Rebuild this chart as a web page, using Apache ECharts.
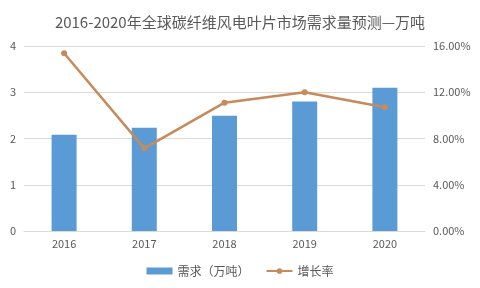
<!DOCTYPE html>
<html><head><meta charset="utf-8">
<script src="https://cdn.jsdelivr.net/npm/echarts@6/dist/echarts.min.js"></script>
<style>html,body{margin:0;padding:0;background:#fff}#c{width:480px;height:288px}</style>
</head><body><div id="c"></div>
<script>
const titleText = '2016-2020年全球碳纤维风电叶片市场需求量预测—万吨';
const categories = ['2016', '2017', '2018', '2019', '2020'];
const demand = [2.08, 2.23, 2.49, 2.80, 3.10];
const growth = [0.1537, 0.0715, 0.1110, 0.1200, 0.1070];
const seriesNames = ['需求（万吨）', '增长率'];

const chart = echarts.init(document.getElementById('c'));
const font = '"Noto Sans CJK SC", "Noto Sans", sans-serif';
chart.setOption({
  animation: false,
  backgroundColor: '#fff',
  title: {
    text: titleText, left: 'center', top: 10,
    textStyle: { fontSize: 15, fontWeight: 'normal', color: '#595959', fontFamily: font }
  },
  legend: {
    bottom: 6, left: 'center', itemGap: 16, itemWidth: 26, itemHeight: 7,
    textStyle: { fontSize: 12, color: '#595959', fontFamily: font },
    data: [{ name: seriesNames[0], icon: 'rect' }, { name: seriesNames[1] }]
  },
  grid: { left: 24, right: 55, top: 46, bottom: 57 },
  xAxis: {
    type: 'category', data: categories,
    axisLine: { lineStyle: { color: '#D9D9D9' } }, axisTick: { show: false },
    axisLabel: { color: '#595959', fontSize: 11, margin: 7, fontFamily: font }
  },
  yAxis: [{
    type: 'value', min: 0, max: 4, interval: 1,
    axisLine: { show: false }, axisTick: { show: false },
    splitLine: { lineStyle: { color: '#D9D9D9' } },
    axisLabel: { color: '#595959', fontSize: 11, margin: 8, fontFamily: font }
  }, {
    type: 'value', min: 0, max: 0.16, interval: 0.04,
    axisLine: { show: false }, axisTick: { show: false }, splitLine: { show: false },
    axisLabel: { color: '#595959', fontSize: 11, margin: 8, fontFamily: font,
      formatter: v => (v * 100).toFixed(2) + '%' }
  }],
  series: [{
    name: seriesNames[0], type: 'bar', data: demand, barWidth: 25,
    itemStyle: { color: '#5B9BD5' }
  }, {
    name: seriesNames[1], type: 'line', yAxisIndex: 1, data: growth,
    symbol: 'circle', symbolSize: 6,
    lineStyle: { color: '#C68A5B', width: 2.5 }, itemStyle: { color: '#C68A5B' }
  }]
});
</script></body></html>
